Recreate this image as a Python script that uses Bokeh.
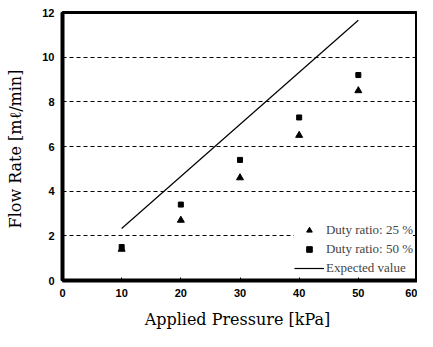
from bokeh.plotting import figure
from bokeh.models import Legend, LegendItem, FixedTicker, Range1d
from bokeh.embed import file_html
from bokeh.resources import INLINE

pressure = [10, 20, 30, 40, 50]
duty25 = [1.4, 2.7, 4.6, 6.5, 8.5]
duty50 = [1.5, 3.4, 5.4, 7.3, 9.2]
exp_x = [10, 50]
exp_y = [2.33, 11.65]
x_ticks = [0, 10, 20, 30, 40, 50, 60]
y_ticks = [0, 2, 4, 6, 8, 10, 12]

p = figure(width=417, height=331, output_backend="svg", toolbar_location=None,
           x_range=Range1d(0, 60), y_range=Range1d(0, 12),
           min_border_left=62, min_border_right=0, min_border_top=12, min_border_bottom=45)
p.outline_line_color = "black"
p.outline_line_width = 3
p.background_fill_color = "white"
p.border_fill_color = "white"

for ax in (p.xaxis[0], p.yaxis[0]):
    ax.axis_line_width = 4
    ax.axis_line_color = "black"
    ax.major_tick_out = 0
    ax.major_tick_in = 3
    ax.minor_tick_out = 0
    ax.minor_tick_in = 0
    ax.major_label_text_font = "Liberation Sans"
    ax.major_label_text_font_style = "bold"
    ax.major_label_text_font_size = "11px"
    ax.axis_label_text_font = "DejaVu Serif"
    ax.axis_label_text_font_style = "normal"
    ax.axis_label_text_font_size = "16px"
    ax.axis_label_text_color = "black"
    ax.major_label_text_color = "black"

p.xaxis[0].ticker = FixedTicker(ticks=x_ticks)
p.yaxis[0].ticker = FixedTicker(ticks=y_ticks)
p.xaxis[0].axis_label = "Applied Pressure  [kPa]"
p.yaxis[0].axis_label = "Flow Rate  [mℓ/min]"
p.xaxis[0].major_label_standoff = 8
p.yaxis[0].major_label_standoff = 8
p.xaxis[0].axis_label_standoff = 10
p.yaxis[0].axis_label_standoff = 14

p.xgrid.grid_line_color = None
p.ygrid.ticker = FixedTicker(ticks=[2, 4, 6, 8, 10])
p.ygrid.grid_line_color = "black"
p.ygrid.grid_line_dash = "4 3"
p.ygrid.grid_line_width = 1

r_line = p.line(exp_x, exp_y, line_color="black", line_width=1.2)
r_tri = p.scatter(pressure, duty25, marker="triangle", size=7, color="black")
r_sq = p.scatter(pressure, duty50, marker="square", size=5, color="black")

legend = Legend(items=[
    LegendItem(label="Duty ratio: 25 %", renderers=[r_tri]),
    LegendItem(label="Duty ratio: 50 %", renderers=[r_sq]),
    LegendItem(label="Expected value", renderers=[r_line]),
], location="bottom_right")
legend.label_text_font = "Liberation Serif"
legend.label_text_font_size = "13px"
legend.border_line_color = None
legend.background_fill_color = "white"
legend.background_fill_alpha = 1
legend.glyph_width = 30
legend.glyph_height = 14
legend.label_height = 14
legend.spacing = 3
legend.padding = 3
legend.margin = 4
legend.label_standoff = 2
p.add_layout(legend)

open("out.html", "w").write(file_html(p, INLINE))
